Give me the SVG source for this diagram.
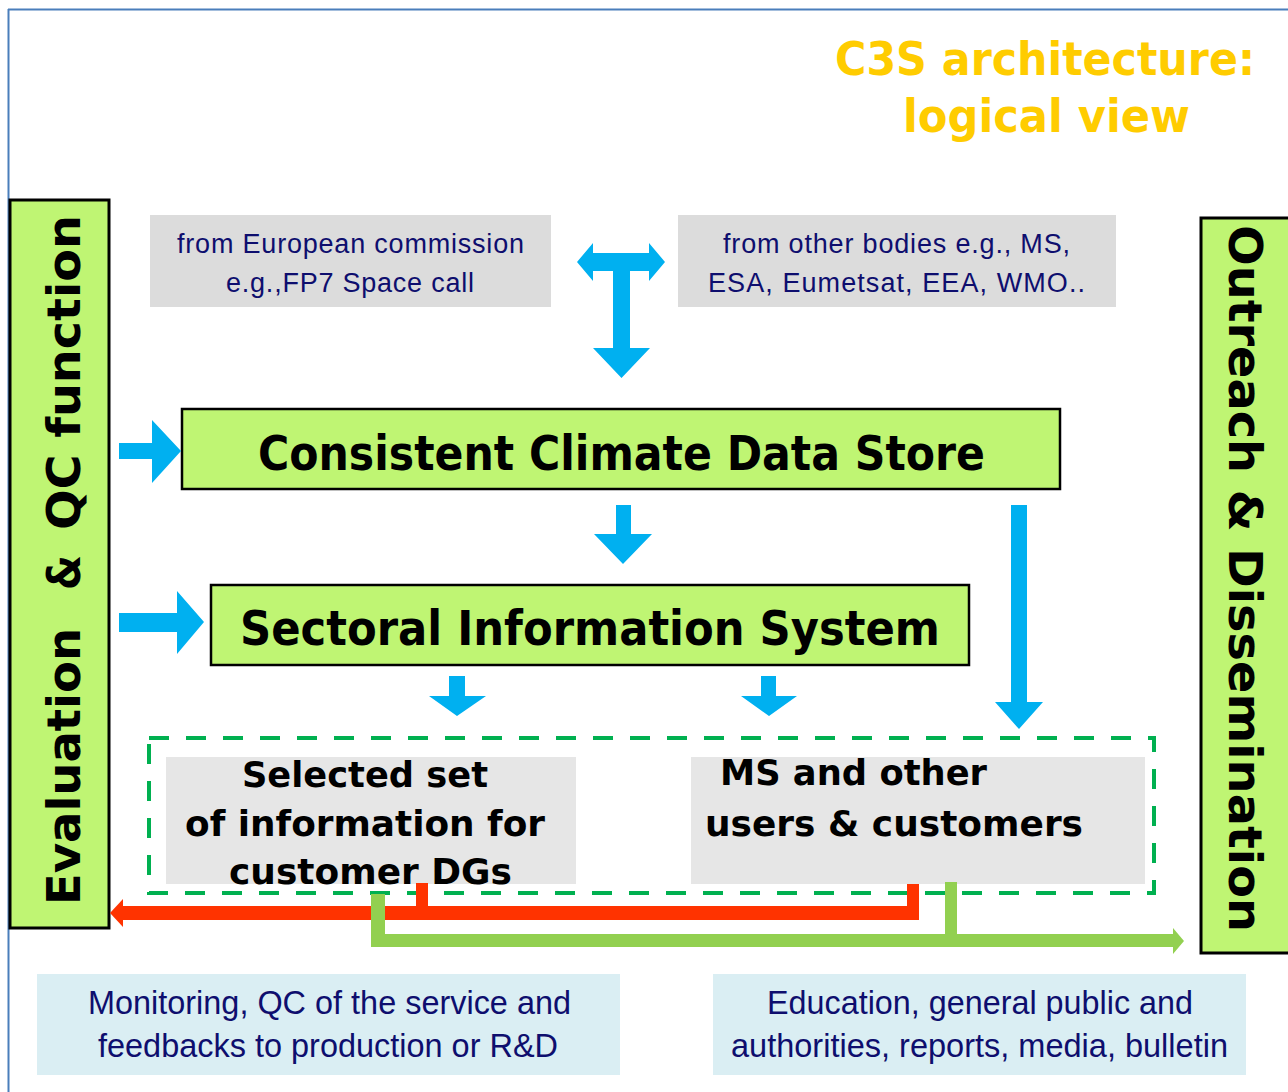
<svg xmlns="http://www.w3.org/2000/svg" width="1288" height="1092" viewBox="0 0 1288 1092">
<defs>
<style>
.bold{font-family:"DejaVu Sans","Liberation Sans",sans-serif;font-weight:bold;fill:#000}
.title{font-family:"DejaVu Sans","Liberation Sans",sans-serif;font-weight:bold;fill:#FFCC00}
.note{font-family:"Liberation Sans",Arial,sans-serif;fill:#0E0E6E}
.green{fill:#BFF573;stroke:#000;stroke-width:3}
.gray{fill:#DCDCDC}
.lgray{fill:#E6E6E6}
.lblue{fill:#DAEEF3}
.blue{fill:#00B0F0}
.red{fill:#FF3300}
.lg{fill:#92D050}
</style>
</defs>
<rect width="1288" height="1092" fill="#fff"/>
<g id="frame" fill="none" stroke="#4A7EBB" stroke-width="2">
<line x1="8" y1="9.5" x2="1288" y2="9.5"/>
<line x1="8.5" y1="9" x2="8.5" y2="1092"/>
</g>
<g id="title">
<text class="title" x="835" y="75" font-size="46" textLength="420" lengthAdjust="spacingAndGlyphs">C3S architecture:</text>
<text class="title" x="903" y="132" font-size="46" textLength="287" lengthAdjust="spacingAndGlyphs">logical view</text>
</g>
<g id="evaluation">
<rect class="green" x="10" y="200" width="99" height="728"/>
<g transform="translate(80,0) rotate(-90)">
<text class="bold" x="-905" y="0" font-size="47" textLength="277" lengthAdjust="spacingAndGlyphs">Evaluation</text>
<text class="bold" x="-590" y="0" font-size="47" textLength="35" lengthAdjust="spacingAndGlyphs">&amp;</text>
<text class="bold" x="-530" y="0" font-size="47" textLength="315" lengthAdjust="spacingAndGlyphs">QC function</text>
</g>
</g>
<g id="outreach">
<rect class="green" x="1201" y="218" width="92" height="735"/>
<text class="bold" transform="translate(1229,225) rotate(90)" x="0" y="0" font-size="46" textLength="707" lengthAdjust="spacingAndGlyphs">Outreach &amp; Dissemination</text>
</g>
<g id="european-commission">
<rect class="gray" x="150" y="215" width="401" height="92"/>
<text class="note" x="177" y="253" font-size="27" textLength="347" lengthAdjust="spacing">from European commission</text>
<text class="note" x="226" y="292" font-size="27" textLength="248" lengthAdjust="spacing">e.g.,FP7 Space call</text>
</g>
<g id="other-bodies">
<rect class="gray" x="678" y="215" width="438" height="92"/>
<text class="note" x="723" y="253" font-size="27" textLength="347" lengthAdjust="spacing">from other bodies e.g., MS,</text>
<text class="note" x="708" y="292" font-size="27" textLength="377" lengthAdjust="spacing">ESA, Eumetsat, EEA, WMO..</text>
</g>
<g id="ccds">
<rect class="green" x="182" y="409" width="878" height="80" style="stroke-width:2.5"/>
<text class="bold" x="258" y="470" font-size="48" textLength="727" lengthAdjust="spacingAndGlyphs">Consistent Climate Data Store</text>
</g>
<g id="sis">
<rect class="green" x="211" y="585" width="758" height="80" style="stroke-width:2.5"/>
<text class="bold" x="240" y="645" font-size="48" textLength="700" lengthAdjust="spacingAndGlyphs">Sectoral Information System</text>
</g>
<g id="users-group">
<rect x="149" y="738" width="1005" height="155" fill="none" stroke="#00B050" stroke-width="4" stroke-dasharray="20 17"/>
</g>
<g id="selected-set">
<rect class="lgray" x="166" y="757" width="410" height="127"/>
<text class="bold" x="242" y="787" font-size="36" textLength="246" lengthAdjust="spacingAndGlyphs">Selected set</text>
<text class="bold" x="185" y="836" font-size="36" textLength="360" lengthAdjust="spacingAndGlyphs">of information for</text>
<text class="bold" x="229" y="884" font-size="36" textLength="283" lengthAdjust="spacingAndGlyphs">customer DGs</text>
</g>
<g id="ms-users">
<rect class="lgray" x="691" y="757" width="454" height="127"/>
<text class="bold" x="720" y="785" font-size="36" textLength="267" lengthAdjust="spacingAndGlyphs">MS and other</text>
<text class="bold" x="705" y="836" font-size="36" textLength="378" lengthAdjust="spacingAndGlyphs">users &amp; customers</text>
</g>
<g id="monitoring">
<rect class="lblue" x="37" y="974" width="583" height="101"/>
<text class="note" x="88" y="1014" font-size="33" textLength="483" lengthAdjust="spacingAndGlyphs">Monitoring, QC of the service and</text>
<text class="note" x="98" y="1057" font-size="33" textLength="460" lengthAdjust="spacingAndGlyphs">feedbacks to production or R&amp;D</text>
</g>
<g id="education">
<rect class="lblue" x="713" y="974" width="533" height="101"/>
<text class="note" x="767" y="1014" font-size="33" textLength="426" lengthAdjust="spacingAndGlyphs">Education, general public and</text>
<text class="note" x="731" y="1057" font-size="33" textLength="497" lengthAdjust="spacingAndGlyphs">authorities, reports, media, bulletin</text>
</g>
<g id="connectors">
<polygon class="blue" points="577,262 593,243 593,253 649,253 649,243 665,262 649,281 649,271 630,271 630,348 650,348 621.5,378 593,348 613,348 613,271 593,271 593,281"/>
<polygon class="blue" points="119,443 152,443 152,420 181,451 152,483 152,459 119,459"/>
<polygon class="blue" points="119,613 177,613 177,591 204,622 177,654 177,632 119,632"/>
<polygon class="blue" points="616,505 631,505 631,534 652,534 623,564 594,534 616,534"/>
<polygon class="blue" points="449,676 465,676 465,696 486,696 457,716 429,696 449,696"/>
<polygon class="blue" points="761,676 776,676 776,696 797,696 769,716 741,696 761,696"/>
<polygon class="blue" points="1011,505 1027,505 1027,702 1043,702 1019,729 995,702 1011,702"/>
<rect class="red" x="122" y="906" width="797" height="14"/>
<rect class="red" x="907" y="884" width="12" height="36"/>
<rect class="red" x="416" y="883" width="12" height="30"/>
<polygon class="red" points="110,913 123,899 123,927"/>
<rect class="lg" x="371" y="894" width="14" height="53"/>
<rect class="lg" x="371" y="934" width="802" height="13"/>
<rect class="lg" x="945" y="882" width="12" height="58"/>
<polygon class="lg" points="1173,928 1184,941 1173,954"/>
</g>
</svg>
